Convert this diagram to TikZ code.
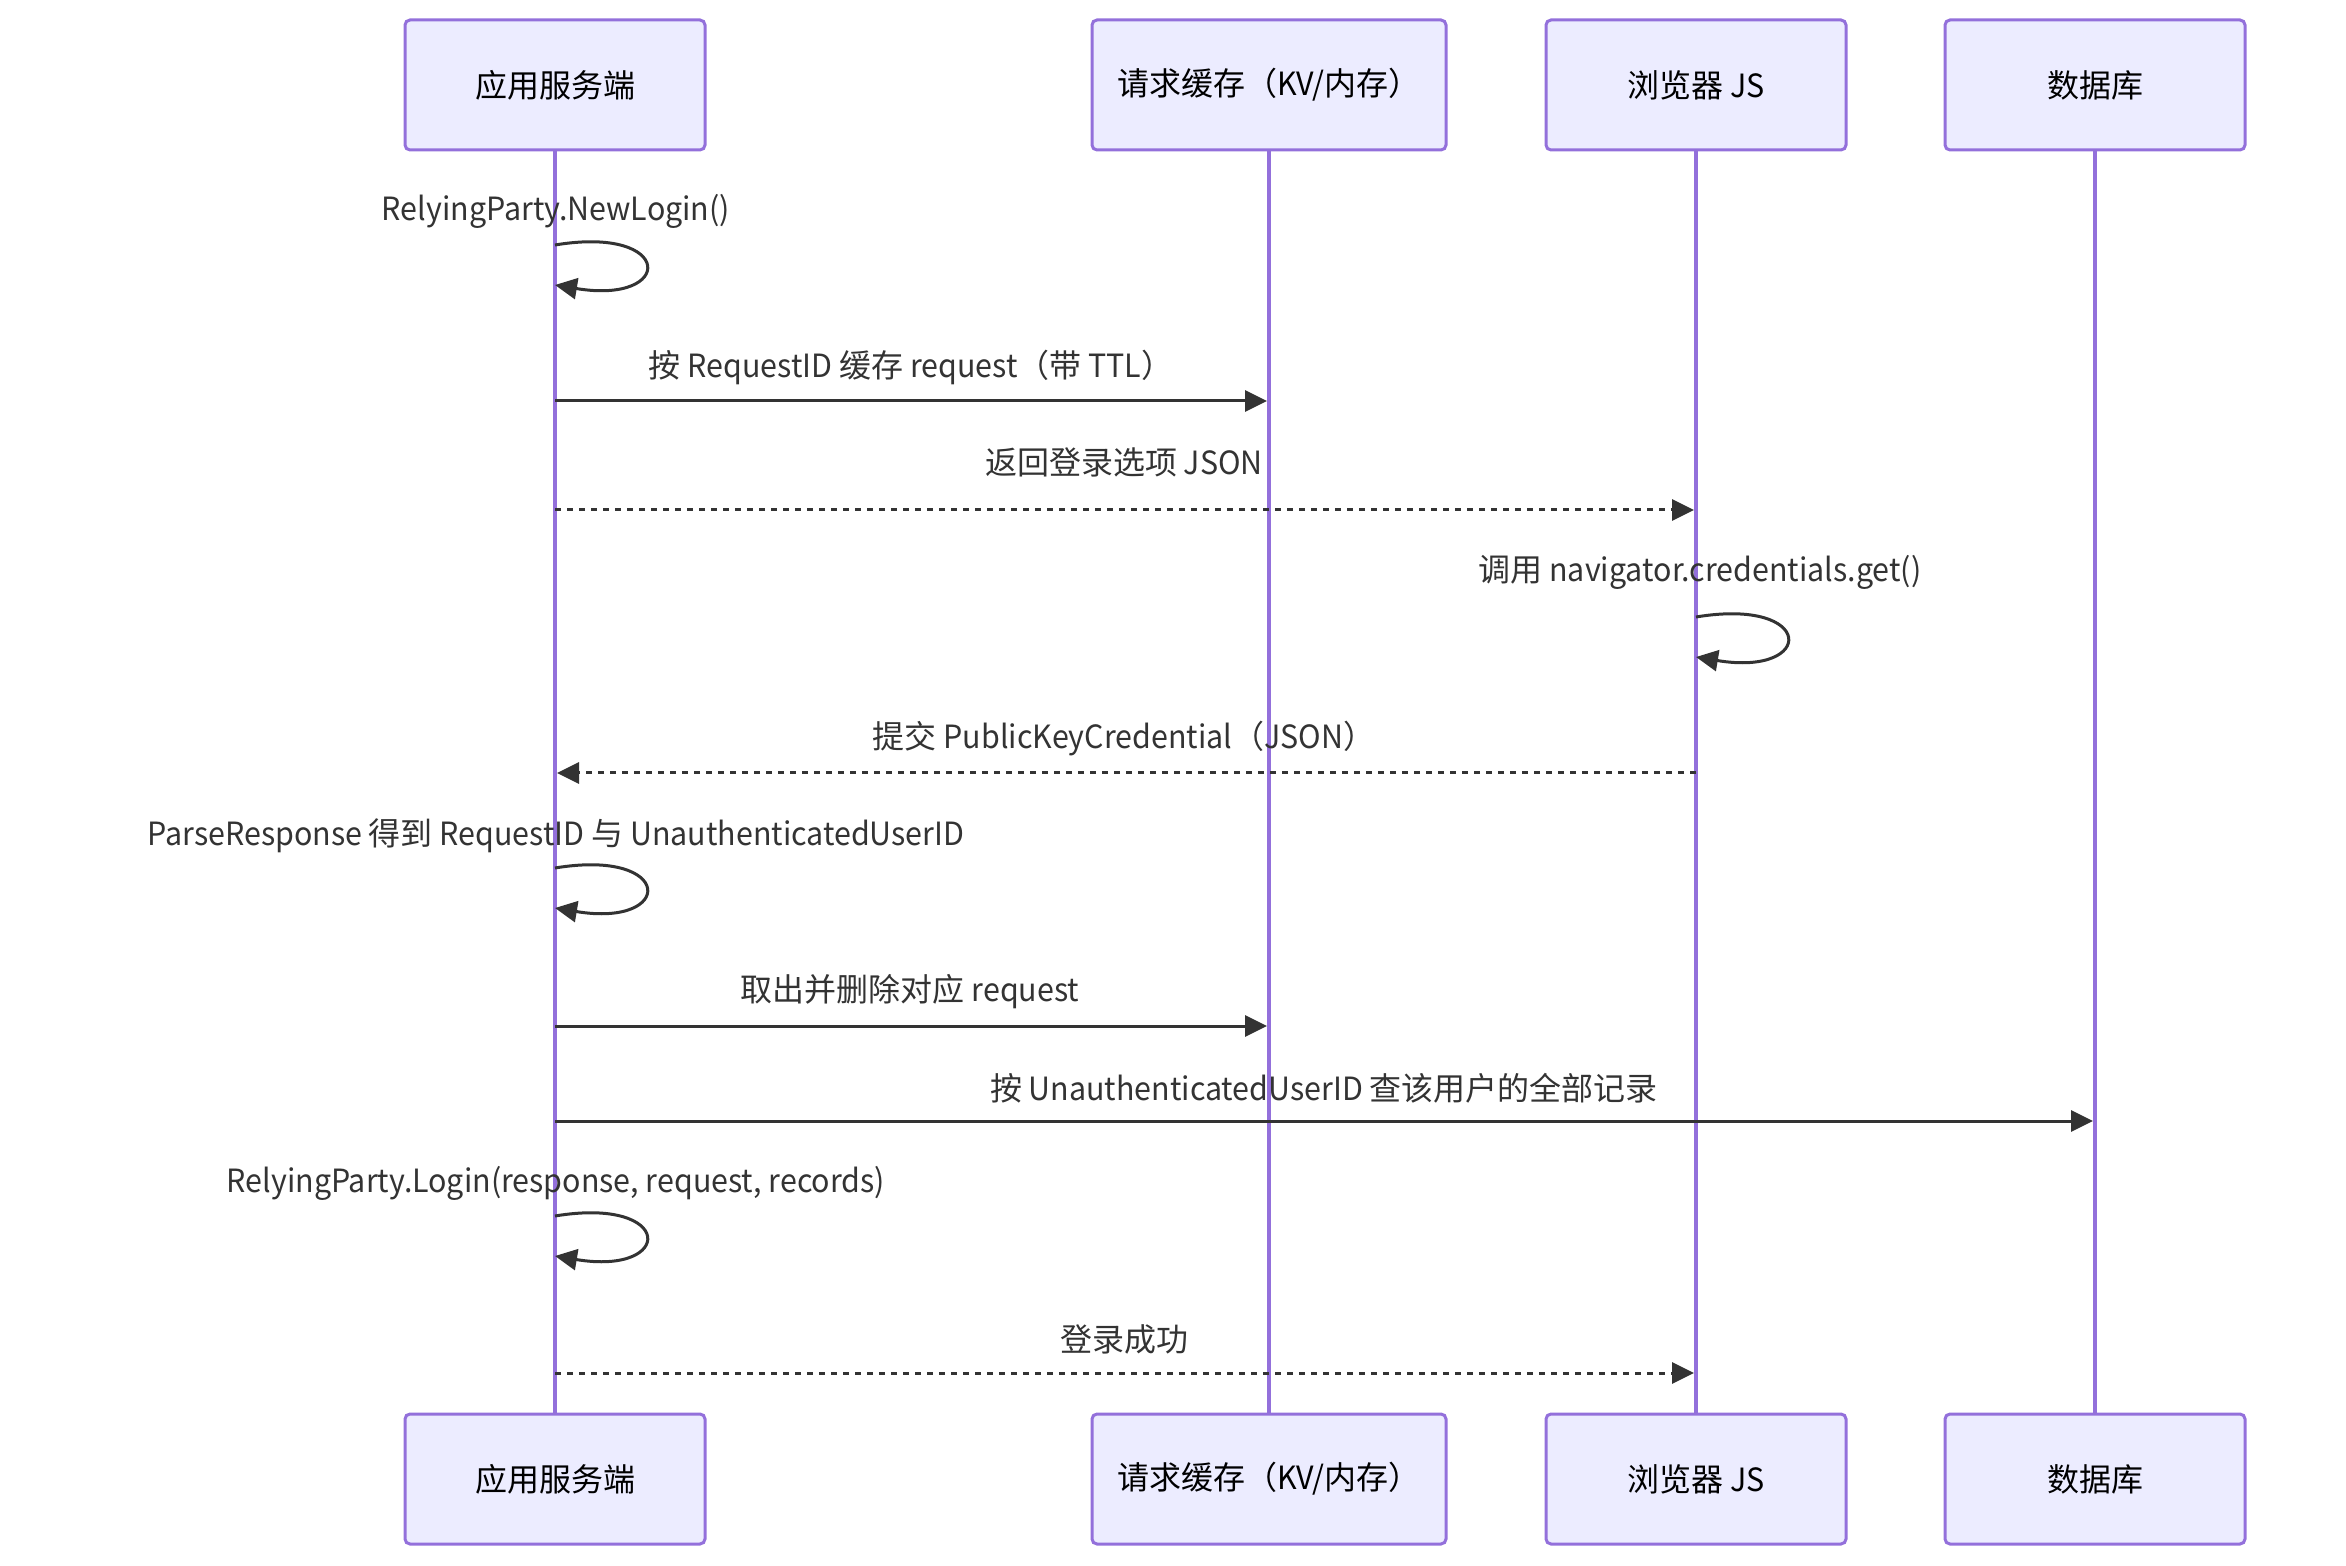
\documentclass[tikz,border=0pt]{standalone}
\usepackage{fontspec}
\setmainfont{Noto Sans CJK SC}[FakeStretch=0.95]
\newfontfamily\cj{Noto Sans CJK SC}
\newcommand{\zh}[1]{{\cj #1}}
\usetikzlibrary{arrows.meta}
\definecolor{boxfill}{HTML}{ECECFF}
\definecolor{boxline}{HTML}{9370DB}
\definecolor{msgc}{HTML}{333333}
\begin{document}
\begin{tikzpicture}[x=0.5pt,y=-0.5pt,
 actor/.style={draw=boxline, fill=boxfill, line width=1.5pt, rounded corners=2.5pt, minimum width=150pt, minimum height=65pt, font=\fontsize{16}{19}\selectfont, text=black, inner sep=0pt},
 life/.style={draw=boxline, line width=2pt},
 msgline/.style={draw=msgc, line width=1.5pt, -{Triangle[length=11pt,width=10.5pt]}},
 reply/.style={msgline, dash pattern=on 3pt off 3pt},
 lbl/.style={text=msgc, font=\fontsize{16}{19}\selectfont, inner sep=0pt}]
\useasboundingbox (0,0) rectangle (2346,1566);
% actors
\node[actor] (t1) at (555,85) {\zh{应用服务端}};
\node[actor, minimum width=177pt] (t2) at (1269,85) {\zh{请求缓存（}KV/\zh{内存）}};
\node[actor] (t3) at (1696,85) {\zh{浏览器} JS};
\node[actor] (t4) at (2095,85) {\zh{数据库}};
\node[actor] (b1) at (555,1479) {\zh{应用服务端}};
\node[actor, minimum width=177pt] (b2) at (1269,1479) {\zh{请求缓存（}KV/\zh{内存）}};
\node[actor] (b3) at (1696,1479) {\zh{浏览器} JS};
\node[actor] (b4) at (2095,1479) {\zh{数据库}};
% lifelines
\draw[life] (t1.south) -- (b1.north);
\draw[life] (t2.south) -- (b2.north);
\draw[life] (t3.south) -- (b3.north);
\draw[life] (t4.south) -- (b4.north);
% message endpoints
\coordinate (m1a) at (555,245); \coordinate (m1b) at (555,285);
\coordinate (m2a) at (555,401); \coordinate (m2b) at (1267,401);
\coordinate (m3a) at (555,510); \coordinate (m3b) at (1694,510);
\coordinate (m4a) at (1696,617); \coordinate (m4b) at (1696,657);
\coordinate (m5a) at (1696,773); \coordinate (m5b) at (557,773);
\coordinate (m6a) at (555,868); \coordinate (m6b) at (555,908);
\coordinate (m7a) at (555,1026); \coordinate (m7b) at (1267,1026);
\coordinate (m8a) at (555,1121); \coordinate (m8b) at (2093,1121);
\coordinate (m9a) at (555,1216); \coordinate (m9b) at (555,1256);
\coordinate (m10a) at (555,1373); \coordinate (m10b) at (1694,1373);
% messages
\draw[msgline] (m1a) .. controls +(120,-20) and +(120,20) .. (m1b);
\draw[msgline] (m2a) -- (m2b);
\draw[reply] (m3a) -- (m3b);
\draw[msgline] (m4a) .. controls +(120,-20) and +(120,20) .. (m4b);
\draw[reply] (m5a) -- (m5b);
\draw[msgline] (m6a) .. controls +(120,-20) and +(120,20) .. (m6b);
\draw[msgline] (m7a) -- (m7b);
\draw[msgline] (m8a) -- (m8b);
\draw[msgline] (m9a) .. controls +(120,-20) and +(120,20) .. (m9b);
\draw[reply] (m10a) -- (m10b);
% labels
\node[lbl] (l1) at (556,211) {RelyingParty.NewLogin()};
\node[lbl] (l2) at (911,367) {\zh{按} RequestID \zh{缓存} request\zh{（带} TTL\zh{）}};
\node[lbl] (l3) at (1124,462) {\zh{返回登录选项} JSON};
\node[lbl] (l4) at (1700,572) {\zh{调用} navigator.credentials.get()};
\node[lbl] (l5) at (1124,739) {\zh{提交} PublicKeyCredential\zh{（}JSON\zh{）}};
\node[lbl] (l6) at (556,836) {ParseResponse \zh{得到} RequestID \zh{与} UnauthenticatedUserID};
\node[lbl] (l7) at (910,992) {\zh{取出并删除对应} request};
\node[lbl] (l8) at (1324,1088) {\zh{按} UnauthenticatedUserID \zh{查该用户的全部记录}};
\node[lbl] (l9) at (556,1183) {RelyingParty.Login(response, request, records)};
\node[lbl] (l10) at (1124,1339) {\zh{登录成功}};
\end{tikzpicture}
\end{document}
